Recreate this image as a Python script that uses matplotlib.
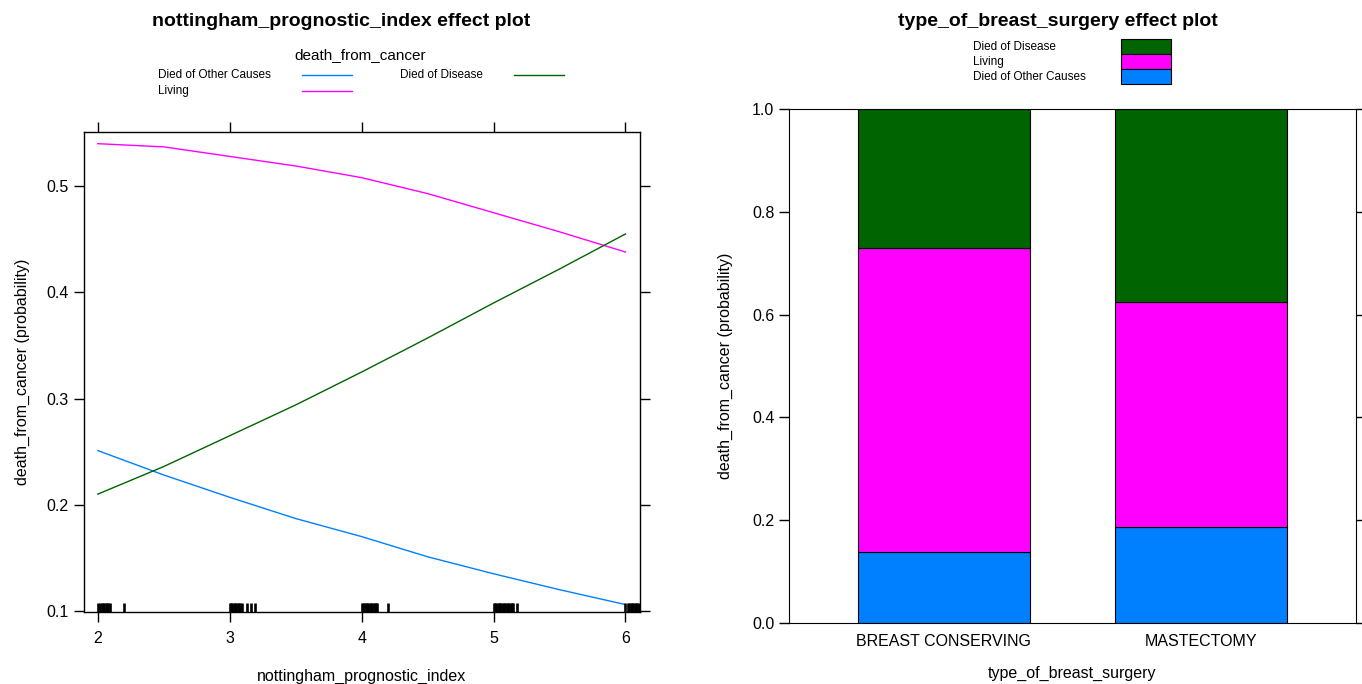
import numpy as np
import matplotlib
matplotlib.use("Agg")
import matplotlib.pyplot as plt
from matplotlib.lines import Line2D
from matplotlib.patches import Rectangle

plt.rcParams['font.family'] = ['Liberation Sans', 'DejaVu Sans']

# left panel: effect curves
npi = [2.0, 2.5, 3.0, 3.5, 4.0, 4.5, 5.0, 5.5, 6.0]
p_other = [0.251, 0.228, 0.207, 0.187, 0.170, 0.151, 0.135, 0.120, 0.106]
p_living = [0.540, 0.537, 0.528, 0.519, 0.508, 0.493, 0.475, 0.457, 0.438]
p_disease = [0.210, 0.236, 0.265, 0.294, 0.325, 0.357, 0.390, 0.422, 0.455]

# observed npi values (rug)
rug = [2.0, 2.02, 2.03, 2.04, 2.05, 2.06, 2.07, 2.08, 2.09, 2.2,
       3.0, 3.01, 3.02, 3.03, 3.04, 3.05, 3.06, 3.07, 3.08, 3.09, 3.13, 3.16, 3.19,
       4.0, 4.01, 4.02, 4.03, 4.04, 4.05, 4.06, 4.07, 4.08, 4.09, 4.1, 4.11, 4.12, 4.2,
       5.0, 5.01, 5.02, 5.03, 5.04, 5.05, 5.06, 5.07, 5.08, 5.09, 5.1, 5.11, 5.12,
       5.13, 5.14, 5.15, 5.18,
       6.0, 6.02, 6.03, 6.04, 6.05, 6.06, 6.07, 6.08, 6.09, 6.1]

# right panel: stacked bars
surgery = ["BREAST CONSERVING", "MASTECTOMY"]
bar_other = [0.138, 0.187]
bar_living = [0.592, 0.438]
bar_disease = [0.270, 0.375]

BLUE = "#0080FF"
MAGENTA = "#FF00FF"
GREEN = "#006400"

W, H = 1362, 684
fig = plt.figure(figsize=(W / 100, H / 100), dpi=100)

def box(l, r, t, b):
    return [l / W, 1 - b / H, (r - l) / W, (b - t) / H]

# ---- left panel
ax1 = fig.add_axes(box(84, 640, 132, 612))
ax1.plot(npi, p_other, color=BLUE, lw=1)
ax1.plot(npi, p_living, color=MAGENTA, lw=1)
ax1.plot(npi, p_disease, color=GREEN, lw=1)
ax1.vlines(rug, 0, 0.019, transform=ax1.get_xaxis_transform(), color="black", lw=1.9)
ax1.set_xlim(1.895, 6.11)
ax1.set_ylim(0.099, 0.551)
ax1.set_xticks([2, 3, 4, 5, 6])
ax1.set_yticks([0.1, 0.2, 0.3, 0.4, 0.5])
ax1.tick_params(direction="out", length=7, width=1, labelsize=11.5,
                top=True, right=True, pad=4)
ax1.tick_params(axis="x", pad=7)
ax1.set_xlabel("nottingham_prognostic_index", fontsize=11.5, labelpad=16)
ax1.set_ylabel("death_from_cancer (probability)", fontsize=11.5, labelpad=12)
for s in ax1.spines.values():
    s.set_linewidth(1)

fig.text(341 / W, 1 - 22 / H, "nottingham_prognostic_index effect plot",
         ha="center", va="center", fontsize=14, fontweight="bold")
fig.text(360 / W, 1 - 55 / H, "death_from_cancer", ha="center", va="center", fontsize=11)
leg_items = [("Died of Other Causes", BLUE, 158, 302, 75),
             ("Living", MAGENTA, 158, 302, 91),
             ("Died of Disease", GREEN, 400, 514, 75)]
for lab, col, xt, xl, yy in leg_items:
    fig.text(xt / W, 1 - yy / H, lab, ha="left", va="center", fontsize=8.5)
    fig.add_artist(Line2D([xl / W, (xl + 50) / W], [1 - yy / H, 1 - yy / H],
                          color=col, lw=1))

# ---- right panel
ax2 = fig.add_axes(box(789, 1356, 109, 623))
x = np.arange(1, len(surgery) + 1)
ax2.bar(x, bar_other, width=2 / 3, color=BLUE, edgecolor="black", lw=0.8)
ax2.bar(x, bar_living, width=2 / 3, bottom=bar_other, color=MAGENTA,
        edgecolor="black", lw=0.8)
ax2.bar(x, bar_disease, width=2 / 3, bottom=np.add(bar_other, bar_living),
        color=GREEN, edgecolor="black", lw=0.8)
ax2.set_xlim(0.4, 2.6)
ax2.set_ylim(0, 1)
ax2.set_xticks(x)
ax2.set_xticklabels(surgery)
ax2.set_yticks([0, 0.2, 0.4, 0.6, 0.8, 1.0])
ax2.tick_params(axis="y", direction="out", length=7, width=1, labelsize=11.5,
                right=True)
ax2.tick_params(axis="x", direction="out", length=0, labelsize=11.5, pad=8)
ax2.set_xlabel("type_of_breast_surgery", fontsize=11.5, labelpad=12)
ax2.set_ylabel("death_from_cancer (probability)", fontsize=11.5, labelpad=14)

fig.text(1058 / W, 1 - 22 / H, "type_of_breast_surgery effect plot",
         ha="center", va="center", fontsize=14, fontweight="bold")
leg2 = [("Died of Disease", GREEN, 39, 54),
        ("Living", MAGENTA, 54, 69),
        ("Died of Other Causes", BLUE, 69, 84)]
for lab, col, t, b in leg2:
    fig.text(973 / W, 1 - (t + b) / 2 / H, lab, ha="left", va="center", fontsize=8.5)
    fig.add_artist(Rectangle((1121 / W, 1 - b / H), 50 / W, (b - t) / H,
                             facecolor=col, edgecolor="black", lw=0.8,
                             transform=fig.transFigure))

fig.savefig("out.png", dpi=100)
